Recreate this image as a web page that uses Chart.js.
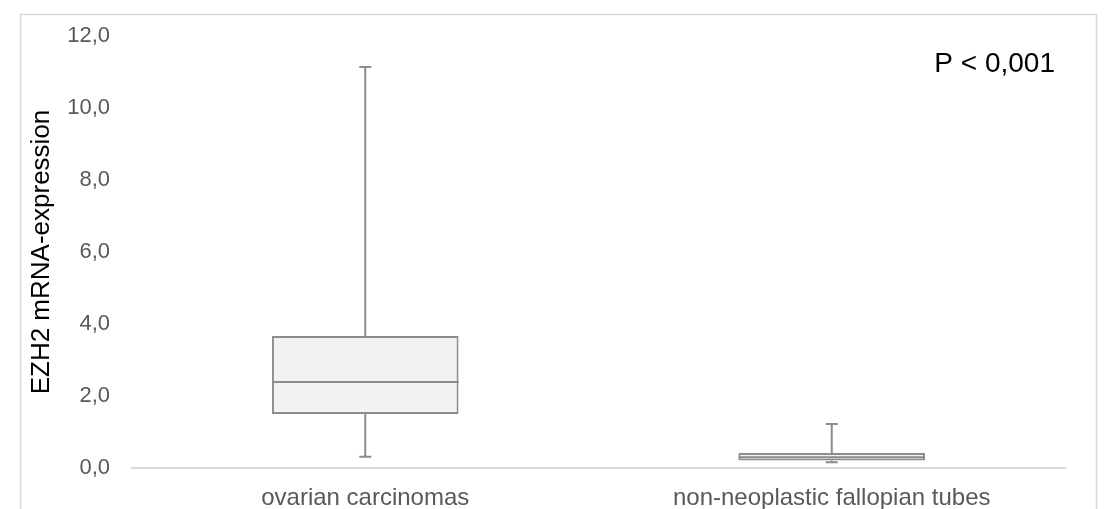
<!DOCTYPE html>
<html>
<head>
<meta charset="utf-8">
<script src="https://cdn.jsdelivr.net/npm/chart.js@4.4.0/dist/chart.umd.min.js"></script>
<style>
html,body{margin:0;padding:0;background:#fff;}
#wrap{width:1109px;height:509px;position:relative;}
</style>
</head>
<body>
<div id="wrap"><canvas id="c" width="1109" height="509"></canvas></div>
<script>
// Data
const categories = ['ovarian carcinomas', 'non-neoplastic fallopian tubes'];
const whiskerMin = [0.31, 0.16];
const q1 = [1.50, 0.21];
const median = [2.39, 0.30];
const q3 = [3.67, 0.42];
const whiskerMax = [11.14, 1.22];
const yTicks = [0, 2, 4, 6, 8, 10, 12];
const annotationText = 'P < 0,001';
const yTitle = 'EZH2 mRNA-expression';

const boxColor = '#8c8c8c';

const boxPlugin = {
  id: 'boxparts',
  beforeDraw(chart) {
    const ctx = chart.ctx;
    ctx.save();
    ctx.strokeStyle = '#d9d9d9';
    ctx.lineWidth = 1.5;
    ctx.strokeRect(20.5, 14.5, 1076, 600);
    ctx.restore();
  },
  afterDatasetsDraw(chart) {
    const ctx = chart.ctx;
    const meta = chart.getDatasetMeta(0);
    const y = chart.scales.y;
    ctx.save();
    ctx.strokeStyle = boxColor;
    ctx.lineWidth = 2;
    meta.data.forEach((bar, i) => {
      const x = bar.x;
      const half = bar.width / 2;
      const capHalf = 6;
      const yMed = y.getPixelForValue(median[i]);
      const yQ1 = y.getPixelForValue(q1[i]);
      const yQ3 = y.getPixelForValue(q3[i]);
      const yMin = y.getPixelForValue(whiskerMin[i]);
      const yMax = y.getPixelForValue(whiskerMax[i]);
      ctx.beginPath();
      // median
      ctx.moveTo(x - half, yMed); ctx.lineTo(x + half, yMed);
      // upper whisker
      ctx.moveTo(x, yQ3); ctx.lineTo(x, yMax);
      ctx.moveTo(x - capHalf, yMax); ctx.lineTo(x + capHalf, yMax);
      // lower whisker
      ctx.moveTo(x, yQ1); ctx.lineTo(x, yMin);
      ctx.moveTo(x - capHalf, yMin); ctx.lineTo(x + capHalf, yMin);
      ctx.stroke();
    });
    // annotation
    ctx.fillStyle = '#000';
    ctx.font = '28px "Liberation Sans", Arial, sans-serif';
    ctx.textAlign = 'right';
    ctx.textBaseline = 'alphabetic';
    ctx.fillText(annotationText, chart.chartArea.right - 10, 72);
    ctx.restore();
  }
};

new Chart(document.getElementById('c'), {
  type: 'bar',
  data: {
    labels: categories,
    datasets: [{
      data: categories.map((_, i) => [q1[i], q3[i]]),
      backgroundColor: '#f2f2f2',
      borderColor: boxColor,
      borderWidth: 2,
      borderSkipped: false,
      barPercentage: 0.4,
      categoryPercentage: 1.0
    }]
  },
  options: {
    responsive: false,
    animation: false,
    layout: { padding: { left: 0, right: 44, top: 36, bottom: 0 } },
    plugins: { legend: { display: false }, tooltip: { enabled: false } },
    scales: {
      x: {
        grid: { display: false, drawTicks: false },
        border: { display: true, color: '#d9d9d9', width: 2 },
        ticks: {
          color: '#595959',
          padding: 16,
          font: { family: '"Liberation Sans", Arial, sans-serif', size: 24 }
        },
        afterFit(s) { s.height = 41; }
      },
      y: {
        min: 0, max: 12,
        afterBuildTicks(s) { s.ticks = yTicks.map(v => ({ value: v })); },
        grid: { display: false, drawTicks: false },
        border: { display: false },
        ticks: {
          color: '#595959',
          padding: 22,
          font: { family: '"Liberation Sans", Arial, sans-serif', size: 22 },
          callback: v => v.toFixed(1).replace('.', ',')
        },
        title: {
          display: true,
          text: yTitle,
          color: '#000',
          padding: { top: 26, bottom: 0 },
          font: { family: '"Liberation Sans", Arial, sans-serif', size: 26 }
        },
        afterFit(s) { s.width = 132; }
      }
    }
  },
  plugins: [boxPlugin]
});
</script>
</body>
</html>
